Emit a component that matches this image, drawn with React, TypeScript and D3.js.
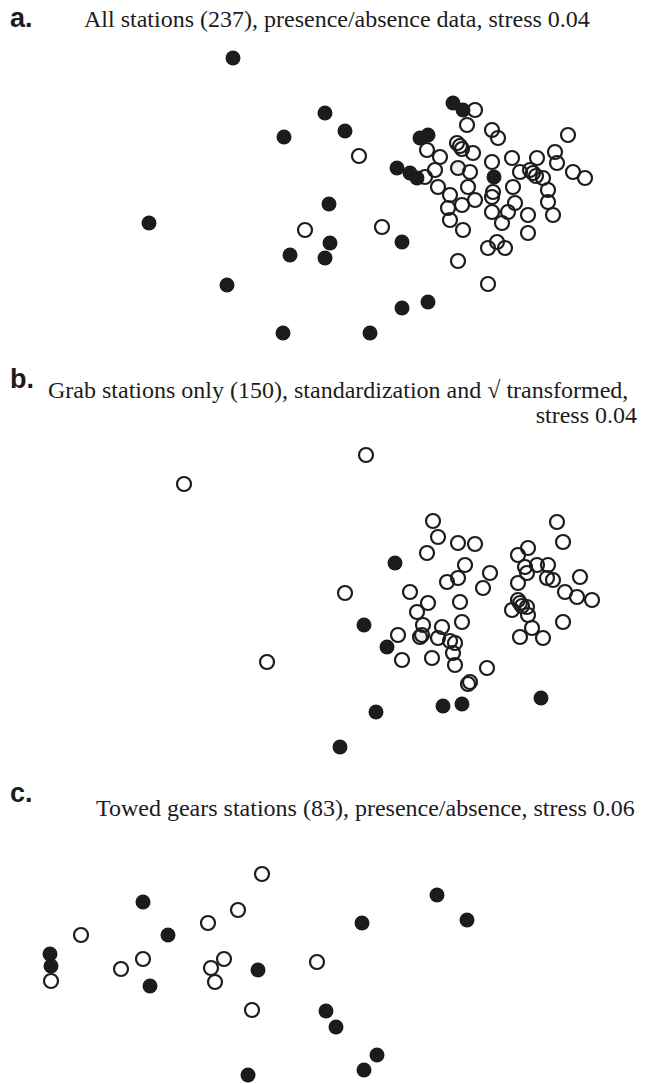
import * as d3 from 'd3';
import React from 'react';

// NMDS ordination coordinates [axis1, axis2]
const aFilled = [
  [-0.92, 1.37], [0.0, 0.82], [0.2, 0.64], [-0.41, 0.58], [0.04, -0.09], [-1.76, -0.28],
  [0.05, -0.48], [-0.35, -0.6], [0.0, -0.63], [-0.98, -0.9], [-0.42, -1.38], [0.45, -1.38],
  [1.28, 0.92], [1.38, 0.85], [0.95, 0.57], [1.03, 0.6], [0.72, 0.27], [0.85, 0.22],
  [0.92, 0.17], [1.69, 0.18], [0.77, -0.47], [0.77, -1.13], [1.03, -1.07],
];
const aOpen = [
  [0.34, 0.39], [-0.2, -0.35], [1.5, 0.85], [1.42, 0.7], [1.67, 0.65], [1.73, 0.57],
  [2.43, 0.6], [1.32, 0.52], [1.35, 0.49], [1.37, 0.46], [1.02, 0.45], [1.48, 0.42],
  [1.15, 0.38], [2.3, 0.43], [1.67, 0.33], [1.87, 0.37], [2.12, 0.37], [2.32, 0.32],
  [1.45, 0.23], [1.1, 0.25], [1.95, 0.23], [2.05, 0.25], [2.08, 0.22],
  [2.11, 0.19], [2.48, 0.23], [2.6, 0.17], [2.18, 0.17], [1.0, 0.18], [1.13, 0.08],
  [1.43, 0.08], [1.88, 0.08], [2.23, 0.05], [1.68, 0.03], [1.25, 0.0], [1.5, -0.05],
  [1.67, -0.02], [2.23, -0.07], [1.37, -0.1], [1.23, -0.13], [1.9, -0.08], [1.83, -0.17],
  [1.67, -0.17], [2.03, -0.2], [2.28, -0.2], [1.25, -0.25], [1.77, -0.28], [1.38, -0.35],
  [2.03, -0.38], [0.57, -0.32], [1.72, -0.47], [1.63, -0.53], [1.8, -0.53], [1.33, -0.66],
  [1.63, -0.89],
];
const aGrey = [[1.33, 0.27]];

const bFilled = [
  [0.7, 0.37], [0.39, -0.25], [0.62, -0.47], [0.51, -1.12], [1.18, -1.06], [1.37, -1.04],
  [2.16, -0.98], [0.15, -1.47],
];
const bOpen = [
  [-1.41, 1.16], [0.41, 1.45], [0.2, 0.07], [-0.58, -0.62], [1.08, 0.79], [1.13, 0.63],
  [1.33, 0.57], [1.5, 0.56], [1.02, 0.47], [2.32, 0.78], [2.38, 0.58], [1.93, 0.45],
  [2.03, 0.52], [2.0, 0.33], [2.12, 0.35], [2.23, 0.35], [2.02, 0.27], [2.22, 0.22],
  [2.28, 0.2], [2.55, 0.23], [1.4, 0.35], [1.65, 0.27], [1.22, 0.18], [1.33, 0.22],
  [1.58, 0.12], [1.93, 0.17], [2.4, 0.08], [2.52, 0.03], [2.67, 0.0], [0.85, 0.08],
  [1.03, -0.03], [1.35, -0.02], [0.92, -0.12], [1.93, 0.0], [1.95, -0.03], [1.97, -0.06],
  [1.87, -0.1], [2.02, -0.07], [2.03, -0.15], [1.37, -0.22], [2.38, -0.22], [0.98, -0.25],
  [1.17, -0.27], [2.07, -0.28], [0.97, -0.35], [1.13, -0.38], [1.25, -0.41], [1.3, -0.43],
  [1.95, -0.37], [2.18, -0.38], [0.73, -0.35], [1.28, -0.53], [0.77, -0.6], [1.07, -0.58],
  [1.3, -0.65], [1.62, -0.68], [1.45, -0.82], [1.43, -0.84],
];
const bGrey = [[0.95, -0.37]];

const cFilled = [
  [-1.82, 0.68], [-1.57, 0.35], [-2.75, 0.16], [-2.74, 0.04], [-1.75, -0.16], [-0.67, 0.0],
  [0.01, -0.41], [0.11, -0.57], [-0.77, -1.05], [1.12, 0.75], [1.42, 0.5], [0.37, 0.47],
  [0.52, -0.85], [0.39, -1.0],
];
const cOpen = [
  [-0.63, 0.96], [-0.87, 0.6], [-1.17, 0.47], [-2.44, 0.35], [-1.82, 0.11], [-2.04, 0.01],
  [-1.01, 0.11], [-1.14, 0.02], [-1.1, -0.12], [-2.74, -0.11], [-0.73, -0.4], [-0.08, 0.08],
];

const panels = [
  { key: 'a', label: 'a.', title: ['All stations (237), presence/absence data, stress 0.04'], filled: aFilled, open: aOpen, grey: aGrey, cy: 195 },
  { key: 'b', label: 'b.', title: ['Grab stations only (150), standardization and \u221A transformed,', 'stress 0.04'], filled: bFilled, open: bOpen, grey: bGrey, cy: 600 },
  { key: 'c', label: 'c.', title: ['Towed gears stations (83), presence/absence, stress 0.06'], filled: cFilled, open: cOpen, grey: [], cy: 970 },
];

const W = 650;
const H = 1084;
const ink = '#1d1b1c';

export default function App() {
  const x = d3.scaleLinear().domain([-3, 3]).range([25, 625]);

  const titlePos = {
    a: { lx: 10, ly: 27, tx: 84, ty: 27 },
    b: { lx: 10, ly: 388, tx: 48, ty: 398 },
    c: { lx: 10, ly: 802, tx: 96, ty: 816 },
  };

  return (
    <div style={{ position: 'absolute', left: 0, top: 0 }}>
      <svg width={W} height={H} style={{ display: 'block', background: '#fff' }}>
        {panels.map((p) => {
          const y = d3.scaleLinear().domain([-1.5, 1.5]).range([p.cy + 150, p.cy - 150]);
          const t = titlePos[p.key];
          return (
            <g key={p.key}>
              <text x={t.lx} y={t.ly} fontFamily="Liberation Sans, Arial, sans-serif" fontWeight="bold" fontSize={27} fill={ink}>
                {p.label}
              </text>
              <text x={t.tx} y={t.ty} fontFamily="Liberation Serif, Times New Roman, serif" fontSize={24} fill={ink}>
                {p.title[0]}
              </text>
              {p.title[1] && (
                <text x={637} y={t.ty + 25} textAnchor="end" fontFamily="Liberation Serif, Times New Roman, serif" fontSize={24} fill={ink}>
                  {p.title[1]}
                </text>
              )}
              {p.filled.map((d, i) => (
                <circle key={'f' + i} cx={x(d[0])} cy={y(d[1])} r={7.5} fill={ink} />
              ))}
              {p.grey.map((d, i) => (
                <circle key={'g' + i} cx={x(d[0])} cy={y(d[1])} r={7} fill="#eeeeee" stroke={ink} strokeWidth={2.2} />
              ))}
              {p.open.map((d, i) => (
                <circle key={'o' + i} cx={x(d[0])} cy={y(d[1])} r={7} fill="none" stroke={ink} strokeWidth={2.2} />
              ))}
            </g>
          );
        })}
      </svg>
    </div>
  );
}
